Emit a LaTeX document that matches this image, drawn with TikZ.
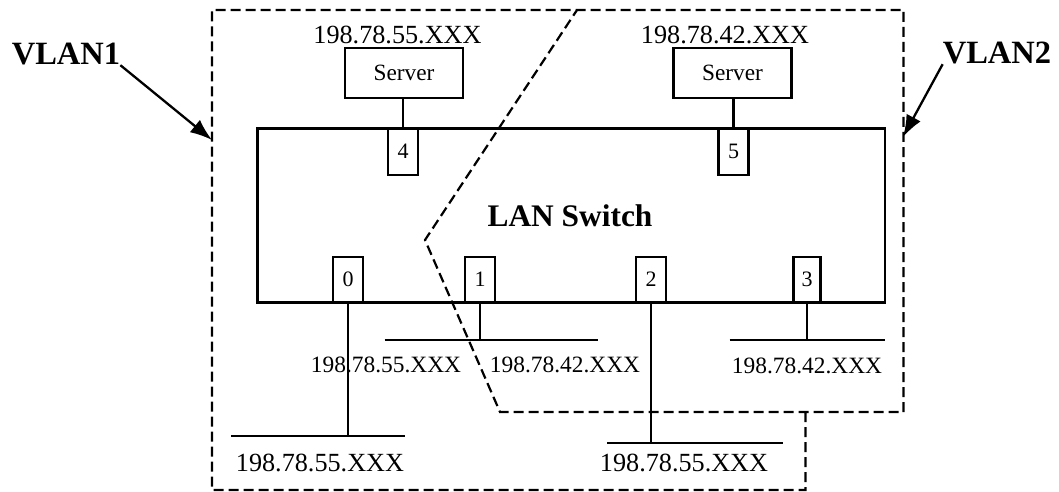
\documentclass[tikz,border=0pt]{standalone}
\usepackage{fontspec}
\setmainfont{Liberation Serif}
\usetikzlibrary{arrows.meta}
\begin{document}
\begin{tikzpicture}[x=1pt,y=-1pt,
  solid line/.style={line width=2.3pt},
  zone/.style={line width=2.2pt,dash pattern=on 10pt off 5pt},
  portbox/.style={draw,line width=2.3pt,fill=white,inner sep=0pt,minimum width=30pt,minimum height=46pt,font=\fontsize{22}{22}\selectfont},
  serverbox/.style={draw,line width=2.3pt,inner sep=0pt,minimum width=118pt,minimum height=50pt,font=\fontsize{23.3}{24}\selectfont},
  iplabel/.style={inner sep=0pt,font=\fontsize{26.2}{27}\selectfont},
  iplabelsmall/.style={inner sep=0pt,font=\fontsize{23.4}{24}\selectfont},
  vlanlabel/.style={inner sep=0pt,font=\fontsize{32.5}{33}\selectfont\bfseries},
  pointer/.style={line width=2.3pt,-{Latex[length=22pt,width=16pt]}}]
\useasboundingbox (0,0) rectangle (1059,492);
% switch
\node[draw,line width=2.6pt,inner sep=0pt,minimum width=627.5pt,minimum height=174pt] (switch) at (571.25,215.5) {};
\node[inner sep=0pt,font=\fontsize{31.4}{32}\selectfont\bfseries] (swlabel) at (570,216) {LAN Switch};
% ports
\node[portbox] (port4) at (403,151.75) {4};
\node[portbox] (port5) at (733.5,151.75) {5};
\node[portbox,minimum height=45.4pt] (port0) at (348,279.7) {0};
\node[portbox,minimum height=45.4pt] (port1) at (480,279.7) {1};
\node[portbox,minimum height=45.4pt] (port2) at (651,279.7) {2};
\node[portbox,minimum height=45.4pt,minimum width=27pt] (port3) at (807,279.7) {3};
% servers
\node[serverbox] (server1) at (404,73) {Server};
\node[serverbox] (server2) at (732.5,73) {Server};
\node[iplabel] (ip1) at (397.5,34.5) {198.78.55.XXX};
\node[iplabel] (ip2) at (725,34.5) {198.78.42.XXX};
\draw[solid line] (port4.north) -- (port4.north |- server1.south);
\draw[solid line] (port5.north) -- (port5.north |- server2.south);
% segment labels
\node[iplabel] (lab0) at (320,463) {198.78.55.XXX};
\node[iplabelsmall] (lab1a) at (386,365) {198.78.55.XXX};
\node[iplabelsmall] (lab1b) at (565,365) {198.78.42.XXX};
\node[iplabel] (lab2) at (684,463) {198.78.55.XXX};
\node[iplabelsmall] (lab3) at (807,366) {198.78.42.XXX};
% buses
\coordinate (bus0L) at (231,436); \coordinate (bus0R) at (405,436);
\coordinate (bus1L) at (384.7,340); \coordinate (bus1R) at (597.6,340);
\coordinate (bus2L) at (607,443); \coordinate (bus2R) at (783,443);
\coordinate (bus3L) at (729.5,340); \coordinate (bus3R) at (885,340);
\draw[solid line] (bus0L) -- (bus0R);
\draw[solid line] (bus1L) -- (bus1R);
\draw[solid line] (bus2L) -- (bus2R);
\draw[solid line] (bus3L) -- (bus3R);
\draw[solid line] (port0.south) -- (port0.south |- bus0L);
\draw[solid line] (port1.south) -- (port1.south |- bus1L);
\draw[solid line] (port2.south) -- (port2.south |- bus2L);
\draw[solid line] (port3.south) -- (port3.south |- bus3L);
% VLAN zones
\coordinate (z1) at (805.5,412);
\coordinate (z2) at (805.5,490);
\coordinate (z3) at (212,490);
\coordinate (z4) at (212,10);
\coordinate (z5) at (903.5,10);
\coordinate (z6) at (903.5,412);
\coordinate (z7) at (500,412);
\coordinate (z8) at (425,240);
\coordinate (z9) at (577,10);
\draw[zone] (z1) -- (z2) -- (z3) -- (z4) -- (z5) -- (z6) -- (z7) -- (z8) -- (z9);
% VLAN labels
\node[vlanlabel] (vlan1) at (66,54) {VLAN1};
\node[vlanlabel] (vlan2) at (997,53) {VLAN2};
\coordinate (tip1) at (212,140);
\coordinate (tip2) at (903,137);
\draw[pointer] (vlan1.south east) -- (tip1);
\draw[pointer] (vlan2.south west) -- (tip2);
\end{tikzpicture}
\end{document}
